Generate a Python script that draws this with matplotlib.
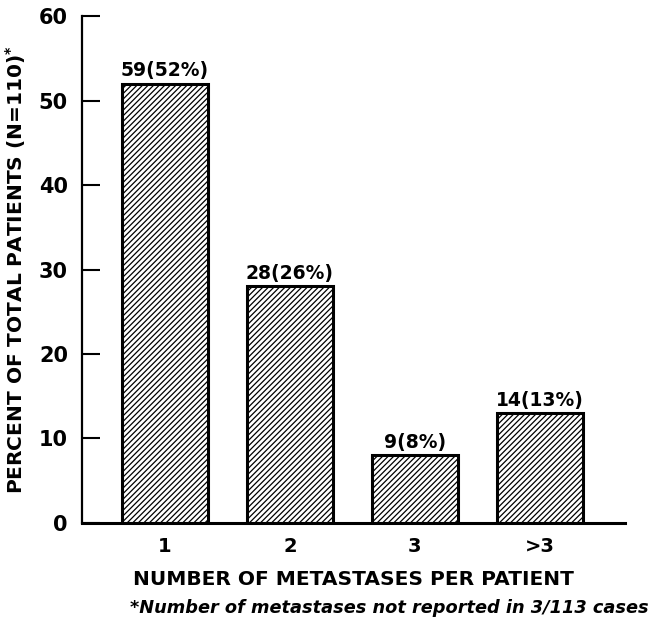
import matplotlib
matplotlib.use("Agg")
import matplotlib.pyplot as plt

categories = ["1", "2", "3", ">3"]
percent = [52, 28, 8, 13]
bar_labels = ["59(52%)", "28(26%)", "9(8%)", "14(13%)"]
yticks = [0, 10, 20, 30, 40, 50, 60]

plt.rcParams["font.family"] = ["DejaVu Sans"]
plt.rcParams["font.weight"] = "bold"
plt.rcParams["hatch.linewidth"] = 0.9
plt.rcParams["mathtext.fontset"] = "custom"
plt.rcParams["mathtext.rm"] = "DejaVu Sans:bold"

fig = plt.figure(figsize=(6.55, 6.24), dpi=100)
ax = fig.add_axes([0.125, 0.162, 0.829, 0.812])

x = list(range(len(categories)))
bars = ax.bar(x, percent, width=0.69, color="white", edgecolor="black",
              linewidth=2.2, hatch="//////")
for b, lab in zip(bars, bar_labels):
    ax.text(b.get_x() + b.get_width() / 2, b.get_height() + 0.4, lab,
            ha="center", va="bottom", fontsize=13.5, fontweight="bold")

ax.set_xlim(-0.664, 3.68)
ax.set_ylim(0, 60)
ax.set_yticks(yticks)
ax.set_xticks(x)
ax.set_xticklabels(categories)
ax.tick_params(axis="y", direction="in", length=13, width=1.5, labelsize=15, pad=10)
ax.tick_params(axis="x", length=0, labelsize=14, pad=10)
for t in ax.get_yticklabels() + ax.get_xticklabels():
    t.set_fontweight("bold")

for s in ["top", "right"]:
    ax.spines[s].set_visible(False)
ax.spines["left"].set_linewidth(1.6)
ax.spines["bottom"].set_linewidth(2.2)

ax.set_xlabel("NUMBER OF METASTASES PER PATIENT", fontsize=14.5, fontweight="bold", labelpad=10)
ax.set_ylabel(r"PERCENT OF TOTAL PATIENTS (N=110)$^{*}$", fontsize=14.5, fontweight="bold", labelpad=8)

fig.text(0.99, 0.026, "*Number of metastases not reported in 3/113 cases",
         ha="right", va="center", fontsize=12.8, fontweight="bold", style="italic")

fig.savefig("out.png", dpi=100)
